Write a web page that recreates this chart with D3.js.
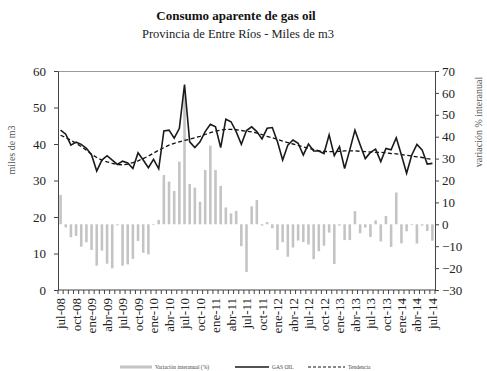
<!DOCTYPE html>
<html>
<head>
<meta charset="utf-8">
<script src="https://cdn.jsdelivr.net/npm/d3@7/dist/d3.min.js"></script>
<style>
  html, body { margin: 0; padding: 0; background: #fff; }
  svg { display: block; font-family: "Liberation Serif", "Times New Roman", serif; }
</style>
</head>
<body>
<svg id="chart" width="487" height="371"></svg>
<script>
// Monthly categories, jul-08 .. jul-14
const categories = [
  "jul-08","ago-08","sep-08","oct-08","nov-08","dic-08",
  "ene-09","feb-09","mar-09","abr-09","may-09","jun-09","jul-09","ago-09","sep-09","oct-09","nov-09","dic-09",
  "ene-10","feb-10","mar-10","abr-10","may-10","jun-10","jul-10","ago-10","sep-10","oct-10","nov-10","dic-10",
  "ene-11","feb-11","mar-11","abr-11","may-11","jun-11","jul-11","ago-11","sep-11","oct-11","nov-11","dic-11",
  "ene-12","feb-12","mar-12","abr-12","may-12","jun-12","jul-12","ago-12","sep-12","oct-12","nov-12","dic-12",
  "ene-13","feb-13","mar-13","abr-13","may-13","jun-13","jul-13","ago-13","sep-13","oct-13","nov-13","dic-13",
  "ene-14","feb-14","mar-14","abr-14","may-14","jun-14","jul-14"
];

// Tick labels shown on the category axis (quarterly)
const xTickLabels = [
  "jul-08","oct-08","ene-09","abr-09","jul-09","oct-09","ene-10","abr-10","jul-10",
  "oct-10","ene-11","abr-11","jul-11","oct-11","ene-12","abr-12","jul-12","oct-12",
  "ene-13","abr-13","jul-13","oct-13","ene-14","abr-14","jul-14"
];

// GAS OIL, miles de m3
const gasOil = [
  43.8, 42.7, 39.7, 40.5, 39.9, 38.8, 37.0, 32.6, 35.6, 36.8, 35.6, 34.4,
  35.3, 34.8, 33.3, 37.6, 35.6, 33.5, 35.8, 33.2, 43.6, 43.8, 41.6, 44.3,
  56.3, 40.6, 39.0, 40.6, 43.4, 45.4, 44.7, 39.0, 46.8, 46.1, 43.4, 39.9,
  43.7, 44.7, 43.4, 41.4, 44.3, 44.5, 40.6, 35.6, 39.7, 41.1, 40.2, 37.0,
  40.0, 38.1, 38.1, 37.4, 42.5, 36.8, 39.3, 33.3, 38.4, 43.8, 39.8, 36.0,
  37.7, 38.6, 35.2, 38.8, 38.4, 41.7, 37.0, 32.0, 37.0, 39.9, 38.4, 34.5,
  34.7
];

// Tendencia, miles de m3
const tendencia = [
  42.4, 41.8, 41.0, 40.2, 39.3, 38.3, 37.2, 36.3, 35.6, 35.1, 34.7, 34.4,
  34.3, 34.5, 34.9, 35.4, 36.0, 36.7, 37.5, 38.3, 39.0, 39.7, 40.2, 40.6,
  41.0, 41.3, 41.7, 42.1, 42.6, 43.1, 43.5, 43.8, 44.0, 44.0, 43.9, 43.7,
  43.5, 43.3, 43.0, 42.6, 42.1, 41.7, 41.3, 40.8, 40.4, 40.0, 39.6, 39.2,
  38.8, 38.5, 38.2, 38.0, 37.9, 37.9, 38.0, 38.1, 38.1, 38.1, 38.0, 37.9,
  37.8, 37.7, 37.7, 37.6, 37.4, 37.3, 37.1, 36.9, 36.7, 36.5, 36.3, 36.0,
  35.8
];

// Variación interanual (%)
const variacion = [
  13.4, -1.4, -5.9, -5.3, -10.2, -8.2, -11.7, -18.9, -12.0, -18.0, -20.1, -0.5,
  -18.9, -18.3, -15.8, -7.6, -13.0, -13.7, -0.3, 2.0, 22.5, 19.5, 15.2, 28.6,
  59.5, 18.4, 16.7, 10.3, 24.8, 35.9, 24.8, 17.5, 7.7, 5.0, 6.1, -10.0,
  -21.8, 8.2, 11.1, -0.6, 1.0, -1.8, -11.7, -8.2, -14.8, -10.6, -7.4, -8.1,
  -9.2, -15.9, -12.3, -9.8, -3.8, -18.1, -0.6, -7.2, -7.2, 6.0, -4.1, -1.5,
  -5.8, 1.8, -7.8, 3.8, -10.3, 14.5, -8.7, -3.2, -0.3, -8.8, -0.6, -3.0,
  -7.5
];

const leftTicks = [0, 10, 20, 30, 40, 50, 60];
const rightTicks = [-30, -20, -10, 0, 10, 20, 30, 40, 50, 60, 70];

const svg = d3.select("#chart");
const plotLeft = 58, plotRight = 435, plotTop = 71, plotBottom = 290;

const x = d3.scaleBand()
  .domain(categories)
  .range([plotLeft, plotRight])
  .paddingInner(0.5)
  .paddingOuter(0.25);
const cx = c => x(c) + x.bandwidth() / 2;

const yL = d3.scaleLinear().domain([0, 60]).range([plotBottom, plotTop]);
const yR = d3.scaleLinear().domain([-30, 70]).range([plotBottom, plotTop]);

// Top frame line
svg.append("line")
  .attr("x1", plotLeft).attr("x2", plotRight)
  .attr("y1", plotTop + 0.5).attr("y2", plotTop + 0.5)
  .attr("stroke", "#9a9a9a").attr("stroke-width", 1);

// Year-on-year bars (right axis)
svg.append("g").selectAll("rect")
  .data(categories)
  .join("rect")
  .attr("x", c => x(c))
  .attr("width", x.bandwidth())
  .attr("y", (c, i) => Math.min(yR(variacion[i]), yR(0)))
  .attr("height", (c, i) => Math.abs(yR(variacion[i]) - yR(0)))
  .attr("fill", "#c4c4c4");

// Trend (dashed) and consumption (solid) lines, left axis
const line = d3.line().x(d => cx(d.c)).y(d => yL(d.v));
svg.append("path")
  .datum(categories.map((c, i) => ({ c, v: tendencia[i] })))
  .attr("d", line)
  .attr("fill", "none")
  .attr("stroke", "#111")
  .attr("stroke-width", 1.3)
  .attr("stroke-dasharray", "4,2.5");

svg.append("path")
  .datum(categories.map((c, i) => ({ c, v: gasOil[i] })))
  .attr("d", line)
  .attr("fill", "none")
  .attr("stroke", "#1a1a1a")
  .attr("stroke-width", 1.6)
  .attr("stroke-linejoin", "miter");

// Axes
const axisColor = "#444";
const gL = svg.append("g").attr("transform", `translate(${plotLeft},0)`)
  .call(d3.axisLeft(yL).tickValues(leftTicks).tickSize(4).tickSizeOuter(0).tickPadding(8));
const gR = svg.append("g").attr("transform", `translate(${plotRight},0)`)
  .call(d3.axisRight(yR).tickValues(rightTicks).tickSize(4).tickSizeOuter(0).tickPadding(3));
[gL, gR].forEach(g => {
  g.selectAll("path, line").attr("stroke", axisColor);
  g.selectAll("text")
    .attr("font-family", "Liberation Serif, serif")
    .attr("font-size", 13)
    .attr("fill", "#222");
});

// Category axis: baseline, monthly minor ticks, quarterly labels
svg.append("line")
  .attr("x1", plotLeft).attr("x2", plotRight)
  .attr("y1", plotBottom).attr("y2", plotBottom)
  .attr("stroke", axisColor);
const step = x.step();
svg.append("g").selectAll("line")
  .data(d3.range(categories.length + 1))
  .join("line")
  .attr("x1", k => plotLeft + k * step).attr("x2", k => plotLeft + k * step)
  .attr("y1", plotBottom).attr("y2", plotBottom + 4)
  .attr("stroke", axisColor);

const gX = svg.append("g").attr("transform", `translate(0,${plotBottom})`)
  .call(d3.axisBottom(x).tickValues(xTickLabels).tickSize(0).tickSizeOuter(0));
gX.select(".domain").remove();
gX.selectAll("text")
  .attr("transform", "rotate(-90)")
  .attr("x", -8)
  .attr("y", 0)
  .attr("dy", "0.35em")
  .attr("text-anchor", "end")
  .attr("font-family", "Liberation Serif, serif")
  .attr("font-size", 13)
  .attr("fill", "#222");

// Titles
svg.append("text")
  .attr("x", 236).attr("y", 20)
  .attr("text-anchor", "middle")
  .attr("font-weight", "bold")
  .attr("font-size", 13)
  .attr("fill", "#111")
  .text("Consumo aparente de gas oil");
svg.append("text")
  .attr("x", 238).attr("y", 38)
  .attr("text-anchor", "middle")
  .attr("font-size", 12.5)
  .attr("fill", "#222")
  .text("Provincia de Entre Ríos - Miles de m3");

// Axis titles
svg.append("text")
  .attr("transform", "translate(15,150) rotate(-90)")
  .attr("text-anchor", "middle")
  .attr("font-size", 10)
  .attr("fill", "#555")
  .text("miles de m3");
svg.append("text")
  .attr("transform", "translate(482,122) rotate(-90)")
  .attr("text-anchor", "middle")
  .attr("font-size", 10)
  .attr("fill", "#555")
  .text("variación % interanual");

// Legend
const legendY = 367;
const lg = svg.append("g").attr("font-size", 5.5).attr("fill", "#444");
lg.append("rect").attr("x", 120).attr("y", legendY - 1.5).attr("width", 32).attr("height", 3).attr("fill", "#c4c4c4");
lg.append("text").attr("x", 155).attr("y", legendY + 2).text("Variación interanual (%)");
lg.append("line").attr("x1", 235).attr("x2", 269).attr("y1", legendY).attr("y2", legendY)
  .attr("stroke", "#1a1a1a").attr("stroke-width", 1.4);
lg.append("text").attr("x", 272).attr("y", legendY + 2).text("GAS OIL");
lg.append("line").attr("x1", 308).attr("x2", 345).attr("y1", legendY).attr("y2", legendY)
  .attr("stroke", "#111").attr("stroke-width", 1.2).attr("stroke-dasharray", "3,2");
lg.append("text").attr("x", 348).attr("y", legendY + 2).text("Tendencia");
</script>
</body>
</html>
